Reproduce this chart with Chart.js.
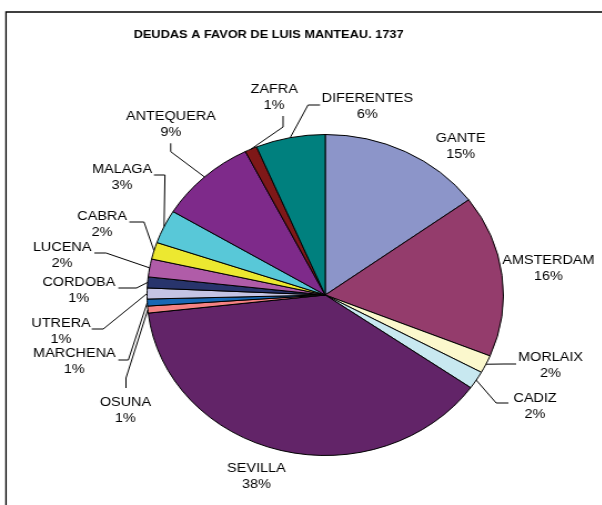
<!DOCTYPE html>
<html>
<head>
<meta charset="utf-8">
<script src="https://cdn.jsdelivr.net/npm/chart.js@4/dist/chart.umd.min.js"></script>
<style>
  html, body { margin: 0; padding: 0; background: #fff; overflow: hidden; }
  /* the original picture is stretched sideways, so the whole chart is too */
  #wrap { width: 542px; height: 505px; transform: scaleX(1.11); transform-origin: 0 0; }
</style>
</head>
<body>
<div id="wrap"><canvas id="c"></canvas></div>
<script>
// Datos (porcentaje de la deuda total)
const cities = ['GANTE', 'AMSTERDAM', 'MORLAIX', 'CADIZ', 'SEVILLA', 'OSUNA', 'MARCHENA',
  'UTRERA', 'CORDOBA', 'LUCENA', 'CABRA', 'MALAGA', 'ANTEQUERA', 'ZAFRA', 'DIFERENTES'];
const amounts = [14.9, 16.3, 1.8, 1.8, 38.4, 0.7, 0.7, 1.1, 1.1, 1.8, 1.7, 3.4, 8.9, 1.1, 6.3];
const sliceColors = ['#8c95c9', '#943c6c', '#fbf8cd', '#c8e8f0', '#622468', '#f48282', '#1868b4',
  '#c4c4e4', '#28346c', '#b05ca8', '#ece830', '#58c8d8', '#7e2a8a', '#7e1818', '#00807e'];
const chartTitle = 'DEUDAS A FAVOR DE LUIS MANTEAU. 1737';

// label placement (unstretched px): text centre, then leader elbow and end
const labelLayout = [
  { x: 415, y: 138 },
  { x: 494, y: 260 },
  { x: 496, y: 357, elbow: [454, 364], end: [465, 364] },
  { x: 482, y: 398, elbow: [447, 403], end: [458, 403] },
  { x: 231, y: 468 },
  { x: 113, y: 402, elbow: [113.5, 378], end: [113.5, 388] },
  { x: 67, y: 353, elbow: [115.6, 360], end: [106.6, 360] },
  { x: 55, y: 323, elbow: [93, 329], end: [82.6, 329] },
  { x: 71, y: 282, elbow: [123, 288], end: [106.6, 288] },
  { x: 56, y: 247, elbow: [95.5, 253], end: [85, 253] },
  { x: 92, y: 216, elbow: [129.7, 222], end: [116.5, 222] },
  { x: 110, y: 169, elbow: [148.6, 175], end: [138.7, 175] },
  { x: 154, y: 116, elbow: [153.8, 151.7], end: [153.8, 143.3] },
  { x: 247, y: 89, elbow: [255, 127], end: [255, 116] },
  { x: 331, y: 98, elbow: [277.5, 105], end: [288.3, 105] }
];

const total = amounts.reduce((a, b) => a + b, 0);
const FONT = '"Liberation Sans", Arial, sans-serif';

const labelsPlugin = {
  id: 'excelLabels',
  afterDraw(chart) {
    const ctx = chart.ctx;
    ctx.save();
    // marco del gráfico
    ctx.strokeStyle = '#000';
    ctx.lineWidth = 1.3;
    ctx.beginPath();
    ctx.moveTo(5.4, 520);
    ctx.lineTo(5.4, 12);
    ctx.lineTo(560, 12);
    ctx.stroke();

    ctx.fillStyle = '#000';
    ctx.textAlign = 'center';
    ctx.textBaseline = 'middle';
    ctx.font = 'bold 11.5px ' + FONT;
    ctx.fillText(chartTitle, 242, 35);

    ctx.font = '13px ' + FONT;
    ctx.lineWidth = 1;
    const meta = chart.getDatasetMeta(0);
    meta.data.forEach((arc, i) => {
      const p = arc.getProps(['x', 'y', 'startAngle', 'endAngle', 'outerRadius'], true);
      const lay = labelLayout[i];
      if (lay.elbow) {
        const mid = (p.startAngle + p.endAngle) / 2;
        ctx.beginPath();
        ctx.moveTo(p.x + Math.cos(mid) * p.outerRadius, p.y + Math.sin(mid) * p.outerRadius);
        ctx.lineTo(lay.elbow[0], lay.elbow[1]);
        ctx.lineTo(lay.end[0], lay.end[1]);
        ctx.stroke();
      }
      const pct = Math.round(amounts[i] / total * 100) + '%';
      ctx.fillText(cities[i], lay.x, lay.y);
      ctx.fillText(pct, lay.x, lay.y + 16.5);
    });
    ctx.restore();
  }
};

new Chart(document.getElementById('c'), {
  type: 'pie',
  data: {
    labels: cities,
    datasets: [{
      data: amounts,
      backgroundColor: sliceColors,
      borderColor: '#000',
      borderWidth: 1
    }]
  },
  options: {
    responsive: true,
    maintainAspectRatio: false,
    animation: false,
    layout: { padding: { left: 132, top: 134, right: 88, bottom: 49 } },
    plugins: {
      legend: { display: false },
      tooltip: { enabled: false },
      title: { display: false }
    }
  },
  plugins: [labelsPlugin]
});
</script>
</body>
</html>
